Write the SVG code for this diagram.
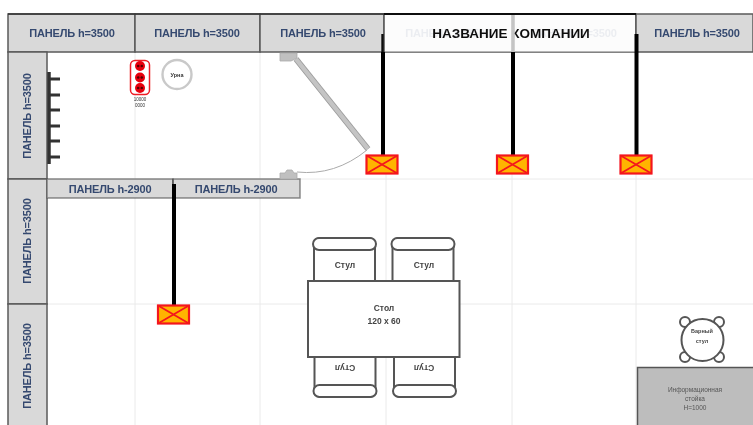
<svg xmlns="http://www.w3.org/2000/svg" width="753" height="425" viewBox="0 0 753 425">
<defs>
<filter id="soft" x="-2%" y="-2%" width="104%" height="104%"><feGaussianBlur stdDeviation="0.6"/></filter>
<g id="cross"><rect x="0" y="0" width="31" height="18" fill="#ffb400" stroke="#f4161c" stroke-width="2.200"/><path d="M0 0L31 18M31 0L0 18" stroke="#f4161c" stroke-width="1.800" fill="none"/></g>
<g id="chair"><path d="M1 43V7Q1 0 8 0H55Q62 0 62 7V43" fill="#fff" class="ln"/><rect x="0" y="0" width="63" height="12" rx="6" fill="#fff" class="ln"/></g>
<g id="dot"><circle r="5" fill="#e8000f"/><circle cx="-1.800" r="1.300" fill="#500"/><circle cx="1.800" r="1.300" fill="#500"/></g>
</defs>
<style>
text{font-family:"Liberation Sans",Arial,sans-serif;text-anchor:middle}
.p{fill:#d9d9d9;stroke:#5a5a5a;stroke-width:1.500}
.pt{font-size:11px;font-weight:bold;fill:#35496f;letter-spacing:-.15px}
.g{stroke:#eaeaea;stroke-width:1;fill:none}
.ln{stroke:#555;stroke-width:2}
.w{stroke:#000;stroke-width:4;fill:none}
.f{font-size:8.500px;font-weight:bold;fill:#444}
</style>
<rect width="753" height="425" fill="#fff"/>
<g filter="url(#soft)">
<g id="grid"><path class="g" d="M135 52V425M260 52V425M512 52V425M636 52V425M386 173V425M47 179H753M47 304H753"/></g>
<g id="panels-top">
<rect class="p" x="8" y="14" width="127" height="38"/><text class="pt" x="72" y="37">ПАНЕЛЬ h=3500</text>
<rect class="p" x="135" y="14" width="125" height="38"/><text class="pt" x="197" y="37">ПАНЕЛЬ h=3500</text>
<rect class="p" x="260" y="14" width="124" height="38"/><text class="pt" x="323" y="37">ПАНЕЛЬ h=3500</text>
<rect class="p" x="384" y="14" width="128" height="38"/><text class="pt" x="448" y="37">ПАНЕЛЬ h=3500</text>
<rect class="p" x="512" y="14" width="124" height="38"/><text class="pt" x="574" y="37">ПАНЕЛЬ h=3500</text>
<rect class="p" x="636" y="14" width="117" height="38"/><text class="pt" x="697" y="37">ПАНЕЛЬ h=3500</text>
</g>
<path d="M8 14H384" stroke="#333" stroke-width="1.600"/>
<g id="panels-left">
<rect class="p" x="8" y="52" width="39" height="127"/><text class="pt" transform="translate(31 116) rotate(-90)">ПАНЕЛЬ h=3500</text>
<rect class="p" x="8" y="179" width="39" height="125"/><text class="pt" transform="translate(31 241) rotate(-90)">ПАНЕЛЬ h=3500</text>
<rect class="p" x="8" y="304" width="39" height="125"/><text class="pt" transform="translate(31 366) rotate(-90)">ПАНЕЛЬ h=3500</text>
</g>
<g id="panels-inner">
<rect class="p" x="47" y="179" width="126" height="19" stroke-opacity=".7"/><text class="pt" x="110" y="193">ПАНЕЛЬ h-2900</text>
<rect class="p" x="173" y="179" width="127" height="19" stroke-opacity=".7"/><text class="pt" x="236" y="193">ПАНЕЛЬ h-2900</text>
</g>
<g id="company-title">
<rect x="385" y="15" width="250" height="36.500" fill="#fff" fill-opacity=".9"/>
<path d="M384 14H636" stroke="#111" stroke-width="2"/>
<text x="511" y="38" font-size="13.500" font-weight="bold" fill="#111">НАЗВАНИЕ КОМПАНИИ</text>
</g>
<g id="connectors">
<path d="M382.500 34V52" stroke="#111" stroke-width="2.400"/><path class="w" d="M383 52V156"/>
<path d="M513 52V156" class="w"/><path d="M513 15V52" stroke="#c4c4c4" stroke-width="3.500"/>
<path class="w" d="M636.500 34V156"/>
<path d="M173 179V186" stroke="#444" stroke-width="1"/><path class="w" d="M174 184V306"/>
</g>
<g id="cross1"><use href="#cross" x="366.500" y="155.500"/></g>
<g id="cross2"><use href="#cross" x="497" y="155.500"/></g>
<g id="cross3"><use href="#cross" x="620.500" y="155.500"/></g>
<g id="cross4"><use href="#cross" x="158" y="305.500"/></g>
<g id="door">
<path d="M296 59L368 149" stroke="#999" stroke-width="6"/><path d="M296 59L368 149" stroke="#c4c4c4" stroke-width="4.400"/>
<path d="M280 53H297V58L291 61H280Z" fill="#c0c0c0" stroke="#aaa" stroke-width=".8"/>
<path d="M280 179V173H285L287 170H292L294 173H297V179Z" fill="#c0c0c0" stroke="#aaa" stroke-width=".8"/>
<path d="M297 172Q335 176 367 150" stroke="#aaa" stroke-width="1" fill="none"/>
</g>
<g id="hanger">
<path d="M49 72V164" stroke="#333" stroke-width="3.500"/>
<path d="M49 79H60M49 95H60M49 110H60M49 126H60M49 141H60M49 157H60" stroke="#333" stroke-width="3"/>
</g>
<g id="red-unit">
<rect x="130.500" y="60.500" width="19" height="34" rx="4.500" fill="#fff" stroke="#ee1c25" stroke-width="1.500"/>
<use href="#dot" x="140" y="66"/><use href="#dot" x="140" y="77.500"/><use href="#dot" x="140" y="88"/>
<text x="140" y="101" font-size="4.500" fill="#333">10000</text><text x="140" y="107" font-size="4.500" fill="#333">0000</text>
</g>
<g id="bin"><circle cx="177" cy="74.500" r="14.500" fill="#fff" stroke="#c9c9c9" stroke-width="2.400"/><text x="177" y="76.500" font-size="5.500" font-weight="bold" fill="#333">Урна</text></g>
<g id="chair1"><use href="#chair" x="313" y="238"/><text class="f" x="345" y="268">Стул</text></g>
<g id="chair2"><use href="#chair" x="391.500" y="238"/><text class="f" x="424" y="268">Стул</text></g>
<g id="chair3"><use href="#chair" transform="translate(376.500 397) scale(-1 -1)"/><text class="f" transform="translate(345 365) rotate(180)">Стул</text></g>
<g id="chair4"><use href="#chair" transform="translate(456 397) scale(-1 -1)"/><text class="f" transform="translate(424 365) rotate(180)">Стул</text></g>
<g id="table"><rect x="308" y="281" width="151.500" height="76" fill="#fff" class="ln"/><text class="f" x="384" y="311">Стол</text><text class="f" x="384" y="324">120 x 60</text></g>
<g id="bar-stool">
<g fill="#fff" class="ln"><circle cx="685" cy="322" r="5"/><circle cx="719" cy="322" r="5"/><circle cx="685" cy="357" r="5"/><circle cx="719" cy="357" r="5"/><circle cx="702.500" cy="340" r="21"/></g>
<text x="702" y="333" font-size="5.500" font-weight="bold" fill="#444">Барный</text><text x="702" y="343" font-size="5.500" font-weight="bold" fill="#444">стул</text>
</g>
<g id="info-desk"><rect x="637.500" y="367.500" width="120" height="65" fill="#bdbdbd" stroke="#555" stroke-width="1.500"/>
<text x="695" y="392" font-size="6.500" fill="#555">Информационная</text><text x="695" y="401" font-size="6.500" fill="#555">стойка</text><text x="695" y="410" font-size="6.500" fill="#555">H=1000</text></g>
</g>
</svg>
